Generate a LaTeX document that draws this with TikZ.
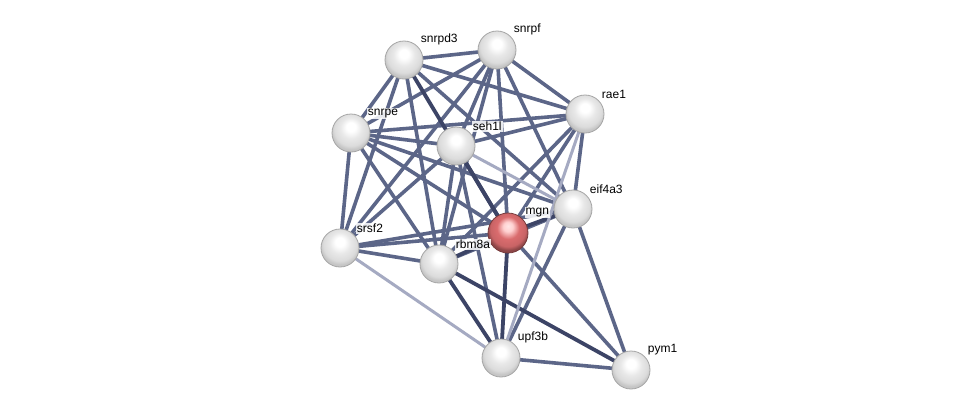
\documentclass[tikz,border=0pt]{standalone}
\usepackage{fontspec}
\setmainfont{Liberation Sans}
\usetikzlibrary{backgrounds}

\definecolor{edgemid}{RGB}{92,102,136}
\definecolor{edgedark}{RGB}{60,68,102}
\definecolor{edgelight}{RGB}{165,170,194}
\definecolor{ballred}{RGB}{218,108,110}

\pgfdeclareradialshading{whiteball}{\pgfqpoint{0bp}{9bp}}{%
    color(0bp)=(white); color(6bp)=(white); color(14bp)=(gray!18);
    color(22bp)=(gray!28); color(26bp)=(gray!45); color(50bp)=(gray!50)}
\pgfdeclareradialshading{redball}{\pgfqpoint{0bp}{9bp}}{%
    color(0bp)=(red!10!white); color(6bp)=(red!18!white); color(14bp)=(ballred);
    color(22bp)=(ballred!92!black); color(26bp)=(ballred!65!black); color(50bp)=(ballred!55!black)}

\tikzset{
    protein/.style={circle, minimum size=38pt, inner sep=0pt, draw=gray!70, line width=0.8pt,
        shading=whiteball,
        label={[lbl]45:#1}},
    query/.style={protein=#1, minimum size=40pt, shading=redball, draw=ballred!55!black},
    lbl/.style={font=\fontsize{12}{14}\selectfont, inner sep=1pt, label distance=0pt, xshift=2pt,
        fill=white, fill opacity=0.85, text opacity=1},
    link/.style={line width=3.6pt, edgemid},
    strong/.style={line width=3.8pt, edgedark},
    weak/.style={line width=3pt, edgelight}
}

\begin{document}
\begin{tikzpicture}[x=1pt, y=-1pt]
    \useasboundingbox (0,0) rectangle (976,415);

    % proteins
    \node[protein=snrpd3] (snrpd3) at (404,60) {};
    \node[protein=snrpf]  (snrpf)  at (497,50) {};
    \node[protein=rae1]   (rae1)   at (585,114) {};
    \node[protein=snrpe]  (snrpe)  at (351,133) {};
    \node[protein=seh1l]  (seh1l)  at (456,146) {};
    \node[protein=eif4a3] (eif4a3) at (573,209) {};
    \node[query=mgn]      (mgn)    at (508,233) {};
    \node[protein=srsf2]  (srsf2)  at (340,248) {};
    \node[protein=rbm8a]  (rbm8a)  at (439,264) {};
    \node[protein=upf3b]  (upf3b)  at (501,358) {};
    \node[protein=pym1]   (pym1)   at (631,370) {};

    % interactions
    \begin{pgfonlayer}{background}
        \fill[white] (0,0) rectangle (976,415);
        \foreach \a/\b in {snrpd3/snrpf, snrpd3/rae1, snrpd3/snrpe, snrpd3/srsf2,
                           snrpd3/rbm8a, snrpd3/eif4a3,
                           snrpf/snrpe, snrpf/seh1l, snrpf/rae1, snrpf/srsf2,
                           snrpf/rbm8a, snrpf/mgn, snrpf/eif4a3,
                           snrpe/rae1, snrpe/seh1l, snrpe/srsf2, snrpe/rbm8a,
                           snrpe/mgn, snrpe/eif4a3,
                           seh1l/rae1, seh1l/srsf2, seh1l/rbm8a, seh1l/upf3b,
                           rae1/mgn, rae1/rbm8a, rae1/eif4a3,
                           srsf2/rbm8a, srsf2/mgn, srsf2/eif4a3,
                           eif4a3/upf3b, eif4a3/pym1, rbm8a/eif4a3,
                           upf3b/pym1, mgn/pym1}
            \draw[link] (\a.center) -- (\b.center);
        \foreach \a/\b in {snrpd3/mgn, seh1l/mgn, mgn/eif4a3, mgn/rbm8a,
                           mgn/upf3b, rbm8a/upf3b, rbm8a/pym1}
            \draw[strong] (\a.center) -- (\b.center);
        \foreach \a/\b in {srsf2/upf3b, seh1l/eif4a3, rae1/upf3b}
            \draw[weak] (\a.center) -- (\b.center);
    \end{pgfonlayer}
\end{tikzpicture}
\end{document}
